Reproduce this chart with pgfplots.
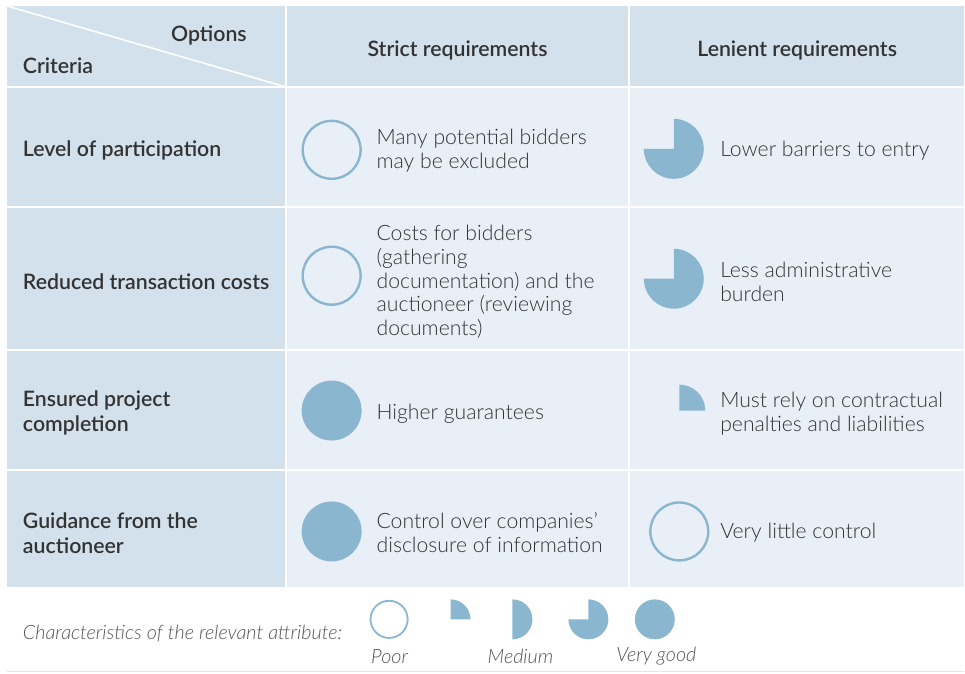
\documentclass[border=0pt]{standalone}
\usepackage{fontspec}
\setmainfont{Lato}
\newfontfamily\lightfont{Lato Light}
\newfontfamily\semifont{Lato Semibold}
\usepackage{pgfplots}
\pgfplotsset{compat=1.18}
\definecolor{hdr}{HTML}{D3E1EC}
\definecolor{cell}{HTML}{E9EFF6}
\definecolor{ball}{HTML}{8AB6CF}
\definecolor{txt}{HTML}{333333}
\definecolor{ltxt}{HTML}{555555}
\definecolor{rule}{HTML}{E8E8E8}
% Harvey-ball plot marks
\pgfdeclareplotmark{hbzero}{%
  \pgfpathcircle{\pgfpointorigin}{\pgfplotmarksize}%
  \pgfusepathqstroke}
\pgfdeclareplotmark{hbquarter}{%
  \pgfpathmoveto{\pgfpointorigin}%
  \pgfpathlineto{\pgfqpoint{0pt}{\pgfplotmarksize}}%
  \pgfpatharc{90}{0}{\pgfplotmarksize}%
  \pgfpathclose
  \pgfusepathqfill}
\pgfdeclareplotmark{hbhalf}{%
  \pgfpathmoveto{\pgfqpoint{0pt}{\pgfplotmarksize}}%
  \pgfpatharc{90}{-90}{\pgfplotmarksize}%
  \pgfpathclose
  \pgfusepathqfill}
\pgfdeclareplotmark{hbthree}{%
  \pgfpathmoveto{\pgfpointorigin}%
  \pgfpathlineto{\pgfqpoint{0pt}{\pgfplotmarksize}}%
  \pgfpatharc{90}{-180}{\pgfplotmarksize}%
  \pgfpathclose
  \pgfusepathqfill}
\pgfdeclareplotmark{hbfull}{%
  \pgfpathcircle{\pgfpointorigin}{\pgfplotmarksize}%
  \pgfusepathqfill}
\tikzset{
  body/.style={inner sep=0pt, outer sep=0pt, text=txt, align=left, font=\lightfont\fontsize{10.6}{12}\selectfont},
  head/.style={inner sep=0pt, outer sep=0pt, text=txt, align=left, font=\semifont\fontsize{10.65}{12.5}\selectfont},
  leg/.style={inner sep=0pt, outer sep=0pt, text=ltxt, font=\lightfont\itshape\fontsize{9.9}{11}\selectfont},
}
\begin{document}
\begin{tikzpicture}
\begin{axis}[
  scale only axis, width=482.5pt, height=337pt,
  xmin=0, xmax=965, ymin=0, ymax=674, y dir=reverse,
  axis lines=none, clip=false,
]
\path (axis cs:0,0) rectangle (axis cs:965,674);
% backgrounds
\fill[hdr] (axis cs:7,6) rectangle (axis cs:965,588);
\fill[cell] (axis cs:286,87) rectangle (axis cs:965,588);
% separators
\draw[white, line width=1pt] (axis cs:286,6) -- (axis cs:286,588);
\draw[white, line width=1pt] (axis cs:630,6) -- (axis cs:630,588);
\draw[white, line width=1pt] (axis cs:7,87) -- (axis cs:965,87);
\draw[white, line width=1pt] (axis cs:7,207) -- (axis cs:965,207);
\draw[white, line width=1pt] (axis cs:7,350) -- (axis cs:965,350);
\draw[white, line width=1pt] (axis cs:7,470) -- (axis cs:965,470);
\draw[white, line width=0.8pt] (axis cs:7,6) -- (axis cs:286,87);
\draw[rule, line width=0.8pt] (axis cs:7,672) -- (axis cs:965,672);
% header texts
\node[head, anchor=east] at (axis cs:247,35) {Options};
\node[head, anchor=west] at (axis cs:23,66) {Criteria};
\node[head] at (axis cs:458,51) {Strict requirements};
\node[head] at (axis cs:798,51) {Lenient requirements};
% row labels
\node[head, anchor=west] at (axis cs:23,151) {Level of participation};
\node[head, anchor=west] at (axis cs:23,282) {Reduced transaction costs};
\node[head, anchor=west] at (axis cs:23,413) {Ensured project\\completion};
\node[head, anchor=west] at (axis cs:23,534) {Guidance from the\\auctioneer};
% strict texts
\node[body, anchor=west] at (axis cs:377,151) {Many potential bidders\\may be excluded};
\node[body, anchor=west] at (axis cs:377,282) {Costs for bidders\\(gathering\\documentation) and the\\auctioneer (reviewing\\documents)};
\node[body, anchor=west] at (axis cs:377,414) {Higher guarantees};
\node[body, anchor=west] at (axis cs:377,533) {Control over companies’\\disclosure of information};
% lenient texts
\node[body, anchor=west] at (axis cs:721,151) {Lower barriers to entry};
\node[body, anchor=west] at (axis cs:721,282) {Less administrative\\burden};
\node[body, anchor=west] at (axis cs:721,414) {Must rely on contractual\\penalties and liabilities};
\node[body, anchor=west] at (axis cs:721,533) {Very little control};
% legend texts
\node[leg, anchor=west] at (axis cs:23,634) {Characteristics of the relevant attribute:};
\node[leg] at (axis cs:390,657) {Poor};
\node[leg] at (axis cs:521,657) {Medium};
\node[leg] at (axis cs:657,657) {Very good};
% Harvey balls in the table
\addplot[only marks, mark=hbzero, mark size=14.5pt, mark options={draw=ball, line width=1.2pt}] coordinates {(332,150) (332,276) (680,532)};
\addplot[only marks, mark=hbthree, mark size=15pt, mark options={fill=ball, draw=none}] coordinates {(674.5,149) (674.5,279)};
\addplot[only marks, mark=hbquarter, mark size=13pt, mark options={fill=ball, draw=none}] coordinates {(680,411)};
\addplot[only marks, mark=hbfull, mark size=15pt, mark options={fill=ball, draw=none}] coordinates {(332,411) (332,532)};
% Harvey balls in the legend
\addplot[only marks, mark=hbzero, mark size=9.3pt, mark options={draw=ball, line width=0.9pt}] coordinates {(389.5,620)};
\addplot[only marks, mark=hbquarter, mark size=10pt, mark options={fill=ball, draw=none}] coordinates {(451,620)};
\addplot[only marks, mark=hbhalf, mark size=10pt, mark options={fill=ball, draw=none}] coordinates {(513,620)};
\addplot[only marks, mark=hbthree, mark size=10pt, mark options={fill=ball, draw=none}] coordinates {(589,620)};
\addplot[only marks, mark=hbfull, mark size=10pt, mark options={fill=ball, draw=none}] coordinates {(655.5,620)};
\end{axis}
\end{tikzpicture}
\end{document}
